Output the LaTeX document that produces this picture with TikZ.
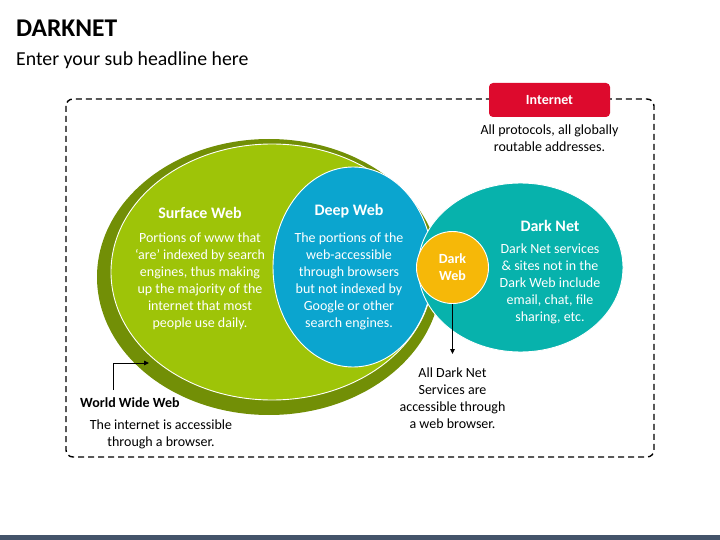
\documentclass[tikz,border=0pt]{standalone}
\usepackage{fontspec}
\setmainfont{Carlito}
\usetikzlibrary{shapes.geometric,arrows.meta}
\definecolor{wwwdark}{HTML}{728F06}
\definecolor{wwwlight}{HTML}{9EC408}
\definecolor{deepblue}{HTML}{0BA5CF}
\definecolor{darkteal}{HTML}{07B2AC}
\definecolor{darkorange}{HTML}{F6B808}
\definecolor{netred}{HTML}{DD0A2D}
\definecolor{barslate}{HTML}{44546A}
\tikzset{
  blob/.style={ellipse, inner sep=0pt, draw=white, line width=0.9pt},
  head/.style={font=\fontsize{16}{17}\selectfont\bfseries, text=white, inner sep=0pt},
  body/.style={font=\fontsize{14}{17}\selectfont, text=white, align=center, inner sep=0pt},
  note/.style={font=\fontsize{14}{17}\selectfont, text=black, align=center, inner sep=0pt},
  pointer/.style={line width=0.9pt, -{Triangle[length=5pt,width=4.5pt]}},
}
\begin{document}
\begin{tikzpicture}[x=1pt,y=-1pt]
\useasboundingbox (0,0) rectangle (720,540);
% bottom bar
\fill[barslate] (0,535) rectangle (720,540);
% title
\node[anchor=west, inner sep=0pt, font=\fontsize{25.5}{29}\selectfont\bfseries] (title) at (16,28) {DARKNET};
\node[anchor=west, inner sep=0pt, font=\fontsize{19.8}{23}\selectfont] (sub) at (16,60) {Enter your sub headline here};
% dashed frame
\draw[dashed, dash pattern=on 6pt off 4pt, line width=1.4pt, rounded corners=7pt] (66,99) rectangle (654,457);
% internet box
\node[fill=netred, rounded corners=4pt, minimum width=121pt, minimum height=34pt, inner sep=0pt,
      font=\fontsize{14}{16}\selectfont\bfseries, text=white] (inet) at (549.5,100) {Internet};
\node[note] (inetnote) at (549.5,138.5) {All protocols, all globally\\routable addresses.};
% www ellipses
\node[ellipse, inner sep=0pt, fill=wwwdark, minimum width=344pt, minimum height=276pt] (www) at (269,277) {};
\node[blob, fill=wwwlight, minimum width=322pt, minimum height=256pt] (surface) at (272,272) {};
% deep web
\node[blob, fill=deepblue, minimum width=160pt, minimum height=200pt] (deep) at (353,267) {};
% dark net
\node[blob, fill=darkteal, minimum width=205pt, minimum height=169pt] (darknet) at (520.5,267.5) {};
% dark web
\node[blob, circle, fill=darkorange, minimum size=72pt] (darkweb) at (452.5,267.5) {};
% texts
\node[head] (surfh) at (200,213) {Surface Web};
\node[body] (surfb) at (200,281) {Portions of www that\\‘are’ indexed by search\\engines, thus making\\up the majority of the\\internet that most\\people use daily.};
\node[head] (deeph) at (349,211) {Deep Web};
\node[body] (deepb) at (349,281) {The portions of the\\web-accessible\\through browsers\\but not indexed by\\Google or other\\search engines.};
\node[head] (dnh) at (550,226) {Dark Net};
\node[body] (dnb) at (550,284) {Dark Net services\\\& sites not in the\\Dark Web include\\email, chat, file\\sharing, etc.};
\node[body, font=\fontsize{14}{17}\selectfont\bfseries] (dwt) at (452.5,267.5) {Dark\\Web};
% dark web note
\coordinate (dwend) at (452.5,354);
\draw[pointer] (darkweb.south) -- (dwend);
\node[note] (dwnote) at (452.5,398.5) {All Dark Net\\Services are\\accessible through\\a web browser.};
% www note
\node[anchor=west, inner sep=0pt, font=\fontsize{14}{16}\selectfont\bfseries] (wwwh) at (80,403) {World Wide Web};
\node[note] (wwwb) at (161,434.5) {The internet is accessible\\through a browser.};
\coordinate (wwwstart) at (113,390);
\coordinate (wwwend) at (149,363);
\draw[pointer] (wwwstart) |- (wwwend);
\end{tikzpicture}
\end{document}
